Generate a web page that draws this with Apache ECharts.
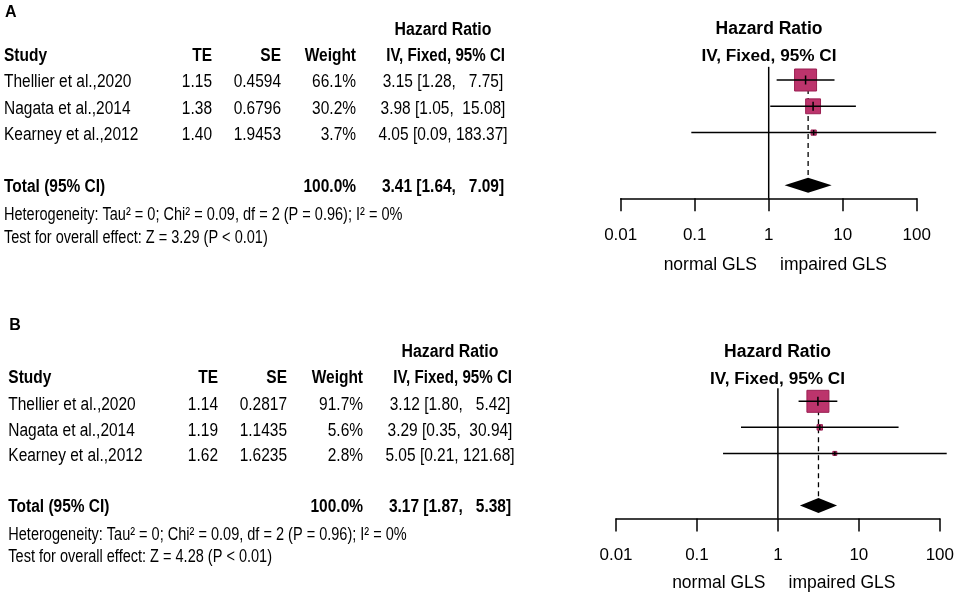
<!DOCTYPE html>
<html>
<head>
<meta charset="utf-8">
<title>Forest plot</title>
<script src="https://cdn.jsdelivr.net/npm/echarts@6/dist/echarts.min.js"></script>
<style>
  html, body { margin: 0; padding: 0; background: #fff; }
  #container { width: 957px; height: 597px; }
</style>
</head>
<body>
<div id="container"></div>
<script>
// --- data ---
var studies = ['Thellier et al.,2020', 'Nagata et al.,2014', 'Kearney et al.,2012'];
var tickValues = [0.01, 0.1, 1, 10, 100];
var tickLabels = ['0.01', '0.1', '1', '10', '100'];

// panel A
var teA = [1.15, 1.38, 1.40];
var seA = ['0.4594', '0.6796', '1.9453'];
var weightA = [66.1, 30.2, 3.7];
var hrA = [3.15, 3.98, 4.05];
var lowerA = [1.28, 1.05, 0.09];
var upperA = [7.75, 15.08, 183.37];
var totalA = [3.41, 1.64, 7.09];
var hetA = 'Heterogeneity: Tau² = 0; Chi² = 0.09, df = 2 (P = 0.96); I² = 0%';
var testA = 'Test for overall effect: Z = 3.29 (P < 0.01)';

// panel B
var teB = [1.14, 1.19, 1.62];
var seB = ['0.2817', '1.1435', '1.6235'];
var weightB = [91.7, 5.6, 2.8];
var hrB = [3.12, 3.29, 5.05];
var lowerB = [1.80, 0.35, 0.21];
var upperB = [5.42, 30.94, 121.68];
var totalB = [3.17, 1.87, 5.38];
var hetB = 'Heterogeneity: Tau² = 0; Chi² = 0.09, df = 2 (P = 0.96); I² = 0%';
var testB = 'Test for overall effect: Z = 4.28 (P < 0.01)';

var FONT = "'Liberation Sans', Arial, sans-serif";
var sqColor = '#bc346c', sqBorder = '#9a1f52';
var maxSq = 22;

var panels = [
  {
    letter: 'A', te: teA, se: seA, w: weightA, hr: hrA, lo: lowerA, hi: upperA, tot: totalA, het: hetA, test: testA,
    grid: { left: 620.7, top: 66.85, width: 296, height: 131.5 },
    yLetter: 12.5, yHead: 30, yCol: 55.7, yRows: [81.7, 109, 135], yTot: 186.7, yHet: 215, yTest: 238.3,
    xStudy: 4, xTE: 212, xSE: 281, xW: 356, xCI: 443, xCIr: 505,
    xPlot: 769, yPlotHead: 29, yPlotCol: 56, yGLS: 265
  },
  {
    letter: 'B', te: teB, se: seB, w: weightB, hr: hrB, lo: lowerB, hi: upperB, tot: totalB, het: hetB, test: testB,
    grid: { left: 616, top: 388.3, width: 324, height: 130.2 },
    yLetter: 325.5, yHead: 351.7, yCol: 377.7, yRows: [405, 430.7, 456], yTot: 507.3, yHet: 535, yTest: 556.7,
    xStudy: 8.3, xTE: 218, xSE: 287, xW: 363, xCI: 450, xCIr: 512,
    xPlot: 777.5, yPlotHead: 352, yPlotCol: 379, yGLS: 583
  }
];

function sqSize(w, wmax) {
  return Math.max(4, maxSq * Math.sqrt(w / wmax));
}

function padLeft(s, n) {
  while (s.length < n) s = ' ' + s;
  return s;
}

function ciText(h, lo, hi, width) {
  return h.toFixed(2) + ' [' + lo.toFixed(2) + ', ' + padLeft(hi.toFixed(2), width) + ']';
}

function txt(x, y, s, o) {
  o = o || {};
  var size = o.size || 18;
  return {
    type: 'text',
    x: x, y: y,
    scaleX: o.sx || 1,
    silent: true,
    style: {
      text: s,
      font: (o.bold ? 'bold ' : '') + size + 'px ' + FONT,
      fill: '#000',
      textAlign: o.align || 'left',
      align: o.align || 'left',
      textVerticalAlign: 'middle',
      verticalAlign: 'middle'
    }
  };
}

var grids = [], xAxes = [], yAxes = [], series = [], graphics = [];

panels.forEach(function (p, k) {
  var wmax = Math.max.apply(null, p.w);
  var TS = 0.86, HS = 0.83;
  var hiWidth = Math.max.apply(null, p.hi.map(function (v) { return v.toFixed(2).length; }));

  grids.push(p.grid);
  xAxes.push({
    type: 'log', logBase: 10, gridIndex: k, min: 0.01, max: 100,
    axisLine: { onZero: false, lineStyle: { color: '#000', width: 1.5 } },
    axisTick: { length: 13, lineStyle: { color: '#000', width: 1.5 } },
    minorTick: { show: false },
    splitLine: { show: false },
    axisLabel: {
      color: '#000', fontSize: 17, fontFamily: FONT, margin: 28,
      formatter: function (v) {
        var i = Math.round(Math.log(v) / Math.LN10) + 2;
        return tickLabels[i] !== undefined ? tickLabels[i] : '';
      }
    }
  });
  yAxes.push({ type: 'value', gridIndex: k, inverse: true, min: -0.5, max: 4.5, show: false });

  // line of no effect
  series.push({
    type: 'line', xAxisIndex: k, yAxisIndex: k, z: 1, symbol: 'none', silent: true,
    lineStyle: { color: '#000', width: 1.5 },
    data: [[1, -0.5], [1, 4.5]]
  });
  // pooled estimate (dashed)
  series.push({
    type: 'line', xAxisIndex: k, yAxisIndex: k, z: 1, symbol: 'none', silent: true,
    lineStyle: { color: '#000', width: 1.3, type: [5, 4] },
    data: [[p.tot[0], 0], [p.tot[0], 4]]
  });
  // study squares
  series.push({
    type: 'scatter', xAxisIndex: k, yAxisIndex: k, z: 2, symbol: 'rect', silent: true,
    symbolSize: function (val) { return sqSize(val[2], wmax); },
    itemStyle: { color: sqColor, borderColor: sqBorder, borderWidth: 1, opacity: 1 },
    data: p.hr.map(function (h, i) { return [h, i, p.w[i]]; })
  });
  // confidence intervals
  series.push({
    type: 'custom', xAxisIndex: k, yAxisIndex: k, z: 3, silent: true, clip: false,
    renderItem: function (params, api) {
      var y = api.value(3);
      var a = api.coord([api.value(0), y]);
      var b = api.coord([api.value(1), y]);
      var c = api.coord([api.value(2), y]);
      var half = Math.min(4.5, sqSize(api.value(4), wmax) / 2);
      return {
        type: 'group',
        children: [
          { type: 'line', shape: { x1: a[0], y1: a[1], x2: b[0], y2: b[1] }, style: { stroke: '#000', lineWidth: 1.5 } },
          { type: 'line', shape: { x1: c[0], y1: c[1] - half, x2: c[0], y2: c[1] + half }, style: { stroke: '#000', lineWidth: 1.5 } }
        ]
      };
    },
    encode: { x: [0, 1, 2], y: 3 },
    data: p.hr.map(function (h, i) { return [p.lo[i], p.hi[i], h, i, p.w[i]]; })
  });
  // pooled diamond
  series.push({
    type: 'custom', xAxisIndex: k, yAxisIndex: k, z: 3, silent: true, clip: false,
    renderItem: function (params, api) {
      var y = api.value(3);
      var a = api.coord([api.value(0), y]);
      var b = api.coord([api.value(1), y]);
      var c = api.coord([api.value(2), y]);
      return {
        type: 'polygon',
        shape: { points: [[a[0], a[1]], [c[0], c[1] - 7.5], [b[0], b[1]], [c[0], c[1] + 7.5]] },
        style: { fill: '#000' }
      };
    },
    encode: { x: [0, 1, 2], y: 3 },
    data: [[p.tot[1], p.tot[2], p.tot[0], 4]]
  });

  // --- text table ---
  graphics.push(txt(p.xStudy + 1, p.yLetter, p.letter, { bold: true, size: 16 }));
  graphics.push(txt(p.xCI, p.yHead, 'Hazard Ratio', { bold: true, align: 'center', sx: 0.88 }));
  graphics.push(txt(p.xStudy, p.yCol, 'Study', { bold: true, sx: TS }));
  graphics.push(txt(p.xTE, p.yCol, 'TE', { bold: true, align: 'right', sx: TS }));
  graphics.push(txt(p.xSE, p.yCol, 'SE', { bold: true, align: 'right', sx: TS }));
  graphics.push(txt(p.xW, p.yCol, 'Weight', { bold: true, align: 'right', sx: TS }));
  graphics.push(txt(p.xCIr, p.yCol, 'IV, Fixed, 95% CI', { bold: true, align: 'right', sx: 0.84 }));

  studies.forEach(function (s, i) {
    var y = p.yRows[i];
    graphics.push(txt(p.xStudy, y, s, { sx: TS }));
    graphics.push(txt(p.xTE, y, p.te[i].toFixed(2), { align: 'right', sx: TS }));
    graphics.push(txt(p.xSE, y, p.se[i], { align: 'right', sx: TS }));
    graphics.push(txt(p.xW, y, p.w[i].toFixed(1) + '%', { align: 'right', sx: TS }));
    graphics.push(txt(p.xCI, y, ciText(p.hr[i], p.lo[i], p.hi[i], hiWidth), { align: 'center', sx: TS }));
  });

  graphics.push(txt(p.xStudy, p.yTot, 'Total (95% CI)', { bold: true, sx: TS }));
  graphics.push(txt(p.xW, p.yTot, '100.0%', { bold: true, align: 'right', sx: TS }));
  graphics.push(txt(p.xCI, p.yTot, ciText(p.tot[0], p.tot[1], p.tot[2], hiWidth), { bold: true, align: 'center', sx: TS }));
  graphics.push(txt(p.xStudy, p.yHet, p.het, { size: 17.5, sx: HS }));
  graphics.push(txt(p.xStudy, p.yTest, p.test, { size: 17.5, sx: HS }));

  // --- plot headers and direction labels ---
  graphics.push(txt(p.xPlot, p.yPlotHead, 'Hazard Ratio', { bold: true, align: 'center', size: 17.5 }));
  graphics.push(txt(p.xPlot, p.yPlotCol, 'IV, Fixed, 95% CI', { bold: true, align: 'center', size: 17.2 }));
  graphics.push(txt(p.xPlot - 12, p.yGLS, 'normal GLS', { align: 'right', size: 17.5 }));
  graphics.push(txt(p.xPlot + 11, p.yGLS, 'impaired GLS', { align: 'left', size: 17.5 }));
});

var myChart = echarts.init(document.getElementById('container'));
myChart.setOption({
  backgroundColor: '#fff',
  animation: false,
  grid: grids,
  xAxis: xAxes,
  yAxis: yAxes,
  series: series,
  graphic: { elements: graphics }
});

window.addEventListener('resize', function () { myChart.resize(); });
</script>
</body>
</html>
